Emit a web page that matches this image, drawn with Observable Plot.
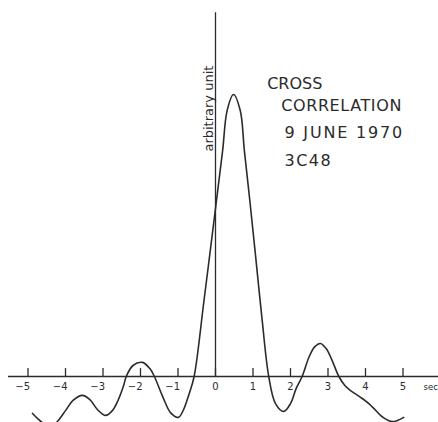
<!DOCTYPE html>
<html><head><meta charset="utf-8">
<script src="https://cdn.jsdelivr.net/npm/d3@7"></script>
<script src="https://cdn.jsdelivr.net/npm/@observablehq/plot@0.6"></script>
<style>
body{margin:0;background:#fff;}
#chart svg{display:block;}
</style></head><body><div id="chart"></div>
<script>
// lag time (sec) and cross-correlation (arbitrary unit, peak = 1)
const timeSec = [-4.88,-4.72,-4.55,-4.4,-4.24,-4.0,-3.8,-3.55,-3.35,-3.15,-2.93,-2.75,-2.6,-2.45,-2.38,-2.2,-1.95,-1.75,-1.63,-1.4,-1.2,-0.99,-0.85,-0.7,-0.57,-0.31,-0.04,0.19,0.31,0.48,0.66,0.77,0.915,1.07,1.245,1.42,1.6,1.82,2.0,2.15,2.31,2.5,2.65,2.8,2.95,3.1,3.29,3.45,3.6,3.87,4.09,4.25,4.4,4.55,4.71,4.85,5.02];
const corr = [-0.131,-0.152,-0.170,-0.177,-0.163,-0.121,-0.085,-0.067,-0.082,-0.117,-0.138,-0.121,-0.085,-0.032,0,0.039,0.050,0.028,0,-0.074,-0.128,-0.145,-0.117,-0.060,0,0.266,0.553,0.801,0.943,1.000,0.943,0.801,0.624,0.426,0.199,0,-0.096,-0.124,-0.096,-0.043,0,0.071,0.106,0.117,0.099,0.060,0,-0.032,-0.050,-0.074,-0.096,-0.117,-0.138,-0.152,-0.160,-0.156,-0.145];
const tickSec = [-5,-4,-3,-2,-1,0,1,2,3,4,5];
const tickLabels = ["−5","−4","−3","−2","−1","0","1","2","3","4","5"];
const titleLines = ["CROSS","CORRELATION","9 JUNE 1970","3C48"];
const yLabel = "arbitrary unit";
const unitLabel = "sec";

const data = timeSec.map((t, i) => ({t, v: corr[i]}));
const ticks = tickSec.map((t, i) => ({t, label: tickLabels[i]}));
const negTicks = ticks.filter(d => d.t < 0);
const posTicks = ticks.filter(d => d.t >= 0);

const ink = "#2b2b2b";
const font = "DejaVu Sans, sans-serif";

const plot = Plot.plot({
  width: 438, height: 422,
  marginTop: 0, marginRight: 0, marginBottom: 0, marginLeft: 0,
  x: {domain: [-5.7333, 5.9467], axis: null},
  y: {domain: [-0.16312, 1.33333], axis: null},
  style: {fontFamily: font, background: "#fff", color: ink},
  marks: [
    Plot.ruleY([0], {x1: -5.52, x2: 5.95, stroke: ink, strokeWidth: 1.3}),
    Plot.ruleX([0], {y1: 0, y2: 1.29, stroke: ink, strokeWidth: 1.3}),
    Plot.ruleX(ticks, {x: "t", y1: 0, y2: 0.028, stroke: ink, strokeWidth: 1.3}),
    Plot.text(negTicks, {x: "t", y: 0, text: "label", dy: 10, dx: 2, textAnchor: "end", fontSize: 10, fill: ink}),
    Plot.text(posTicks, {x: "t", y: 0, text: "label", dy: 10, textAnchor: "middle", fontSize: 10, fill: ink}),
    Plot.text([unitLabel], {x: 5.55, y: 0, text: d => d, dy: 11, textAnchor: "start", fontSize: 8.5, fill: ink}),
    Plot.line(data, {x: "t", y: "v", curve: "catmull-rom", stroke: ink, strokeWidth: 1.6}),
    Plot.text([yLabel], {x: -0.19, y: 0.95, text: d => d, rotate: -90, fontSize: 13, fill: ink}),
    Plot.text([titleLines[0]], {x: 1.378, y: 1.018, text: d => d, textAnchor: "start", lineAnchor: "bottom", fontSize: 16, fill: ink}),
    Plot.text([titleLines[1]], {x: 1.752, y: 0.943, text: d => d, textAnchor: "start", lineAnchor: "bottom", fontSize: 16, fill: ink}),
    Plot.text([titleLines[2]], {x: 1.84, y: 0.844, text: d => d, textAnchor: "start", lineAnchor: "bottom", fontSize: 16, fill: ink}),
    Plot.text([titleLines[3]], {x: 1.84, y: 0.745, text: d => d, textAnchor: "start", lineAnchor: "bottom", fontSize: 16, fill: ink})
  ]
});
const spacing = {"CORRELATION": "0.6px", "9 JUNE 1970": "1.8px", "3C48": "1.5px"};
d3.select(plot).selectAll("text").each(function() {
  const s = spacing[this.textContent];
  if (s) this.setAttribute("letter-spacing", s);
});
document.getElementById("chart").appendChild(plot);
</script></body></html>
